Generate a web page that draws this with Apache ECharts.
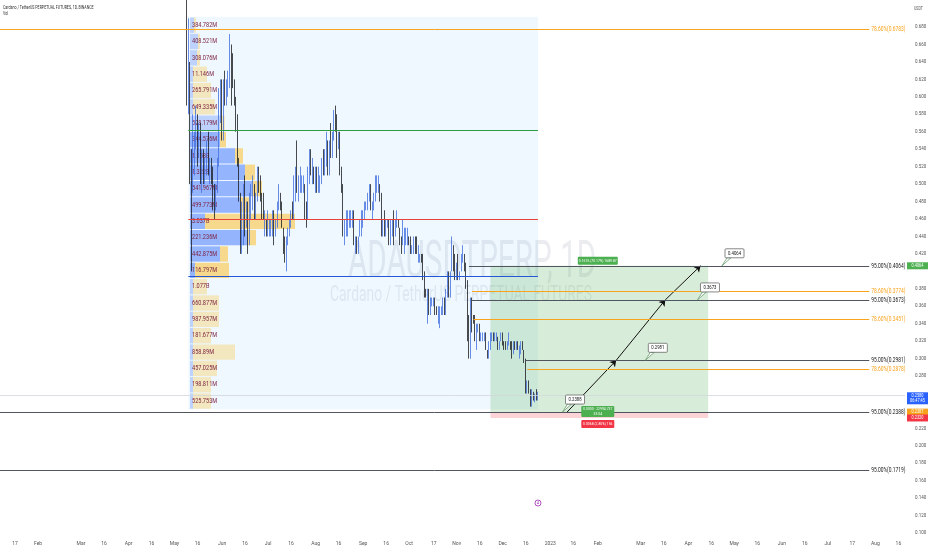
<!DOCTYPE html>
<html><head><meta charset="utf-8">
<script src="https://cdn.jsdelivr.net/npm/echarts@6/dist/echarts.min.js"></script>
<style>html,body{margin:0;padding:0;background:#fff}#c{width:932px;height:550px}</style>
</head><body><div id="c"></div>
<script>
// ---------------- DATA ----------------
const firstCandle = '2022-05-09';
// daily candles [open, high, low, close]
const may22 = [[.74,.75,.59,.60],[.60,.69,.58,.62],[.62,.64,.50,.52],[.52,.54,.40,.50],[.50,.58,.49,.54],[.54,.56,.51,.55],[.55,.59,.54,.58],[.58,.58,.52,.53],[.53,.57,.53,.56],[.56,.57,.50,.50],[.50,.54,.49,.53],[.53,.54,.50,.51],[.51,.53,.50,.52],[.52,.55,.51,.54],[.54,.56,.51,.52],[.52,.53,.50,.52],[.52,.53,.50,.51],[.51,.52,.47,.49],[.49,.50,.46,.48],[.48,.50,.47,.50],[.50,.53,.49,.53],[.53,.61,.52,.60],[.60,.62,.57,.60]];
const jun22 = [[.60,.62,.55,.56],[.56,.62,.55,.62],[.62,.63,.59,.60],[.60,.62,.59,.61],[.61,.63,.60,.62],[.62,.672,.61,.65],[.65,.66,.59,.62],[.62,.65,.61,.61],[.61,.62,.59,.60],[.60,.60,.56,.57],[.57,.58,.52,.52],[.52,.53,.48,.49],[.49,.49,.42,.44],[.44,.48,.42,.47],[.47,.50,.43,.50],[.50,.51,.44,.45],[.45,.48,.45,.47],[.47,.48,.42,.44],[.44,.49,.43,.48],[.48,.50,.46,.48],[.48,.51,.47,.49],[.49,.50,.46,.47],[.47,.49,.46,.49],[.49,.52,.48,.51],[.51,.52,.49,.50],[.50,.51,.48,.48],[.48,.49,.46,.47],[.47,.49,.46,.46],[.46,.47,.44,.46],[.46,.46,.44,.45]];
const jul22 = [[.45,.47,.44,.45],[.45,.46,.44,.45],[.45,.46,.44,.45],[.45,.47,.44,.47],[.47,.47,.43,.45],[.45,.46,.44,.45],[.45,.48,.45,.48],[.48,.50,.47,.48],[.48,.49,.47,.47],[.47,.48,.45,.45],[.45,.45,.42,.43],[.43,.44,.41,.42],[.42,.44,.40,.44],[.44,.45,.43,.45],[.45,.46,.44,.46],[.46,.47,.45,.47],[.47,.48,.46,.46],[.46,.51,.46,.50],[.50,.52,.48,.51],[.51,.55,.49,.50],[.50,.51,.48,.50],[.50,.52,.49,.50],[.50,.51,.49,.50],[.50,.51,.49,.50],[.50,.50,.46,.47],[.47,.48,.45,.46],[.46,.52,.46,.51],[.51,.54,.50,.53],[.53,.54,.51,.51],[.51,.53,.50,.51],[.51,.52,.50,.50]];
const aug22 = [[.50,.52,.49,.51],[.51,.52,.49,.50],[.50,.52,.49,.50],[.50,.51,.49,.50],[.50,.53,.50,.53],[.53,.54,.51,.52],[.52,.54,.51,.53],[.53,.56,.52,.54],[.54,.55,.51,.52],[.52,.55,.51,.55],[.55,.57,.53,.54],[.54,.56,.53,.56],[.56,.585,.55,.58],[.58,.59,.56,.57],[.57,.58,.53,.55],[.55,.56,.54,.55],[.55,.56,.51,.51],[.51,.52,.49,.50],[.50,.50,.44,.45],[.45,.46,.43,.45],[.45,.47,.44,.46],[.46,.47,.44,.46],[.46,.47,.45,.46],[.46,.47,.45,.46],[.46,.47,.45,.46],[.46,.47,.43,.43],[.43,.44,.42,.43],[.43,.44,.42,.42],[.42,.44,.42,.44],[.44,.46,.44,.45],[.45,.47,.44,.46]];
const sep22 = [[.46,.47,.45,.47],[.47,.48,.46,.47],[.47,.48,.47,.48],[.48,.49,.47,.49],[.49,.50,.48,.49],[.49,.50,.47,.47],[.47,.48,.46,.48],[.48,.49,.47,.48],[.48,.51,.48,.50],[.50,.51,.49,.50],[.50,.51,.49,.50],[.50,.50,.48,.48],[.48,.49,.44,.45],[.45,.46,.44,.46],[.46,.47,.44,.45],[.45,.46,.44,.45],[.45,.46,.45,.46],[.46,.46,.43,.44],[.44,.46,.43,.45],[.45,.46,.44,.45],[.45,.47,.43,.44],[.44,.46,.44,.46],[.46,.47,.45,.46],[.46,.46,.45,.45],[.45,.45,.43,.44],[.44,.44,.42,.43],[.43,.46,.43,.44],[.44,.45,.42,.44],[.44,.45,.43,.44],[.44,.45,.43,.44]];
const oct22 = [[.44,.44,.43,.43],[.43,.44,.42,.42],[.42,.43,.42,.43],[.43,.44,.42,.44],[.44,.44,.42,.43],[.43,.44,.42,.42],[.42,.43,.41,.42],[.42,.42,.41,.42],[.42,.42,.41,.41],[.41,.42,.39,.39],[.39,.40,.37,.38],[.38,.38,.37,.37],[.37,.38,.34,.37],[.37,.38,.35,.36],[.36,.37,.35,.36],[.36,.37,.36,.37],[.37,.37,.36,.37],[.37,.37,.35,.36],[.36,.36,.35,.35],[.35,.36,.34,.35],[.35,.36,.335,.355],[.355,.36,.35,.36],[.36,.37,.35,.37],[.37,.37,.35,.36],[.36,.38,.35,.38],[.38,.40,.37,.39],[.39,.40,.37,.38],[.38,.40,.37,.40],[.40,.44,.40,.42],[.42,.43,.40,.41],[.41,.42,.39,.40]];
const nov22 = [[.40,.41,.39,.41],[.41,.42,.39,.39],[.39,.40,.39,.40],[.40,.42,.40,.42],[.42,.43,.41,.42],[.42,.42,.40,.40],[.40,.41,.38,.39],[.39,.39,.32,.34],[.34,.35,.30,.31],[.31,.37,.30,.36],[.36,.37,.33,.35],[.35,.35,.34,.34],[.34,.35,.32,.32],[.32,.34,.31,.33],[.33,.34,.33,.34],[.34,.34,.32,.33],[.33,.33,.32,.33],[.33,.33,.32,.33],[.33,.33,.32,.33],[.33,.33,.31,.31],[.31,.31,.30,.305],[.305,.32,.30,.32],[.32,.33,.31,.32],[.32,.33,.32,.33],[.33,.33,.32,.32],[.32,.33,.32,.32],[.32,.33,.32,.325],[.325,.325,.31,.315],[.315,.32,.31,.32],[.32,.33,.32,.325]];
const dec22 = [[.325,.33,.315,.32],[.32,.32,.31,.315],[.315,.32,.31,.31],[.31,.32,.31,.32],[.32,.33,.315,.32],[.32,.32,.31,.315],[.315,.32,.30,.31],[.31,.32,.305,.32],[.32,.32,.31,.315],[.315,.32,.31,.315],[.315,.32,.31,.31],[.31,.315,.30,.31],[.31,.32,.305,.315],[.315,.32,.31,.31],[.31,.31,.295,.298],[.298,.30,.26,.265],[.265,.275,.26,.27],[.27,.275,.26,.262],[.262,.265,.245,.25],[.25,.265,.245,.26],[.26,.262,.252,.255],[.255,.26,.25,.258],[.258,.265,.252,.255],[.255,.262,.252,.258]];

// y-axis tick labels and x-axis tick dates
const yTicks = [0.10,0.12,0.14,0.16,0.18,0.20,0.22,0.24,0.26,0.28,0.30,0.32,0.34,0.36,0.38,0.40,0.42,0.44,0.46,0.48,0.50,0.52,0.54,0.56,0.58,0.60,0.62,0.64,0.66,0.68];
const xTicks = ['2022-01-17','2022-02-01','2022-03-01','2022-03-16','2022-04-01','2022-04-16','2022-05-01','2022-05-16','2022-06-01','2022-06-16','2022-07-01','2022-07-16','2022-08-01','2022-08-16','2022-09-01','2022-09-16','2022-10-01','2022-10-17','2022-11-01','2022-11-16','2022-12-01','2022-12-16','2023-01-01','2023-01-16','2023-02-01','2023-03-01','2023-03-16','2023-04-01','2023-04-16','2023-05-01','2023-05-16','2023-06-01','2023-06-16','2023-07-01','2023-07-17','2023-08-01','2023-08-16'];
const viewStart = '2022-01-07T04:50:00Z';
const viewEnd = '2023-08-20T07:40:00Z';
const priceMin = 0.0956, priceMax = 0.7110;

// visible range volume profile
const vpStart = '2022-05-10', vpEnd = '2022-12-24';
const vpHigh = 0.6915, vpLow = 0.2420;
const vpLabels = ['384.782M','408.521M','308.076M','11.146M','265.791M','649.335M','528.179M','344.576M','1.158B','1.322B','541.967M','499.773M','3.037B','221.236M','442.875M','116.797M','1.077B','660.877M','987.957M','181.677M','858.89M','457.025M','198.811M','525.753M'];
const vpUp   = [4,8,7,3,3,3,30,30,45,55,62,50,15,58,30,5,3,3,3,3,3,3,3,3];
const vpDown = [2,2,3,14,18,22,5,6,8,10,10,10,90,8,8,34,14,26,26,18,42,24,18,18];
const vaHigh = 0.5613, poc = 0.4597, vaLow = 0.3943;

// fib / extension levels
const levelPrices = [0.6783,0.4064,0.3774,0.3673,0.3451,0.2981,0.2878,0.2388,0.1719];
const levelNames  = ['78.60%','95.00%','78.60%','95.00%','78.60%','95.00%','78.60%','95.00%','95.00%'];
const levelStarts = [viewStart,'2022-11-09','2022-11-11','2022-11-11','2022-11-12','2022-12-16','2022-12-17',viewStart,viewStart];
const levelEnd = '2023-07-28';

// long position tool
const posStart = '2022-11-23', posEnd = '2023-04-14';
const posEntry = 0.2388, posTarget = 0.4064, posStop = 0.2320;
const posTopText = '0.1676 (70.17%) 1689.87';
const posMidText = '0.0000 · 22994.737\n33.04';
const posStopText = '0.0068 (2.85%) 156';
const posLabelDate = '2023-02-01';

// projected path
const pathDates  = ['2023-01-12','2023-02-13','2023-03-17','2023-04-09'];
const pathPrices = [0.2388,0.2981,0.3673,0.4064];

// callouts
const noteDates  = ['2023-01-09','2023-03-04','2023-04-07','2023-04-23'];
const notePrices = [0.2388,0.2981,0.3673,0.4064];

// price-scale tags
const tagPrices = [0.4064,0.2580,0.2387,0.2320];
const tagTexts  = ['0.4064','0.2580\n06:47:45','0.2387','0.2320'];
const lastPrice = 0.2580;
const eventDate = '2022-12-24';

// ---------------- BUILD ----------------
const DAY = 86400000;
// x values are expressed in days since 1970-01-01 (UTC)
const T = s => new Date(s.length === 10 ? s + 'T00:00:00Z' : s).getTime() / DAY;
const candles = [].concat(may22, jun22, jul22, aug22, sep22, oct22, nov22, dec22);
const t0 = T(firstCandle);
const candleData = candles.map((c, i) => [t0 + i, c[0], c[3], c[2], c[1]]);
const MON = ['Jan','Feb','Mar','Apr','May','Jun','Jul','Aug','Sep','Oct','Nov','Dec'];
const FONT = 'Roboto, "Liberation Sans", sans-serif';
const ORANGE = '#f9a31c';
const xmin = T(viewStart), xmax = T(viewEnd);

const vaLinesData = [[vaHigh, '#2e9b3f'], [poc, '#e8423b'], [vaLow, '#2357d6']].map(v => [
  {coord: [T(vpStart), v[0]], lineStyle: {color: v[1], width: 1, type: 'solid'}},
  {coord: [T(vpEnd), v[0]]}
]);
const pathData = [];
for (let i = 0; i < pathDates.length - 1; i++) {
  pathData.push([{coord: [T(pathDates[i]), pathPrices[i]]}, {coord: [T(pathDates[i + 1]), pathPrices[i + 1]]}]);
}

const chart = echarts.init(document.getElementById('c'), null, {renderer: 'canvas'});
const option = {
  animation: false,
  backgroundColor: '#ffffff',
  grid: [
    {left: 0, right: 27, top: 0, bottom: 13},
    {left: 190, right: 27, top: 0, bottom: 13}
  ],
  xAxis: [
    {type: 'value', gridIndex: 0, min: xmin, max: xmax,
     axisLine: {show: false}, axisTick: {show: false}, splitLine: {show: false},
     axisLabel: {customValues: xTicks.map(T), margin: 4, fontSize: 5, color: '#555', fontFamily: FONT,
       formatter: v => { const d = new Date(Math.round(v) * DAY); const day = d.getUTCDate(); if (day === 1) return d.getUTCMonth() === 0 ? String(d.getUTCFullYear()) : MON[d.getUTCMonth()]; return String(day); }}},
    {type: 'value', gridIndex: 1, min: 0, max: 715, show: false}
  ],
  yAxis: [
    {type: 'value', gridIndex: 0, position: 'right', min: priceMin, max: priceMax,
     axisLine: {show: false}, axisTick: {show: false}, splitLine: {show: false},
     axisLabel: {customValues: yTicks, margin: 10, fontSize: 4.5, color: '#555', fontFamily: FONT,
       formatter: v => tagPrices.some(p => Math.abs(p - v) < 0.009) ? '' : v.toFixed(3)}},
    {type: 'value', gridIndex: 1, min: priceMin, max: priceMax, show: false}
  ],
  graphic: [
    {type: 'text', x: 3, y: 5, scaleX: 0.72, z: 50, style: {text: 'Cardano / TetherUS PERPETUAL FUTURES, 1D, BINANCE', font: '5px ' + FONT, fill: '#333'}},
    {type: 'text', x: 3, y: 11, scaleX: 0.72, z: 50, style: {text: 'Vol', font: '5px ' + FONT, fill: '#333'}},
    {type: 'text', x: 914, y: 6, scaleX: 0.8, z: 50, style: {text: 'USDT', font: '4.5px ' + FONT, fill: '#555'}},
    {type: 'text', x: 348, y: 238, scaleX: 0.57, z: 0, style: {text: 'ADAUSDTPERP, 1D', font: '52px ' + FONT, fill: 'rgba(150,160,178,0.2)'}},
    {type: 'text', x: 330, y: 284, scaleX: 0.63, z: 0, style: {text: 'Cardano / TetherUS PERPETUAL FUTURES', font: '22px ' + FONT, fill: 'rgba(150,160,178,0.2)'}}
  ],
  series: [
    {
      type: 'line', xAxisIndex: 0, yAxisIndex: 0, data: [], z: 1, silent: true,
      markArea: {silent: true, data: [
        [{coord: [T(vpStart), vpHigh], itemStyle: {color: 'rgba(33,150,243,0.07)'}}, {coord: [T(vpEnd), vpLow]}],
        [{coord: [T(posStart), posTarget], itemStyle: {color: 'rgba(76,175,80,0.22)'}}, {coord: [T(posEnd), posEntry]}],
        [{coord: [T(posStart), posEntry], itemStyle: {color: 'rgba(242,54,69,0.22)'}}, {coord: [T(posEnd), posStop]}]
      ]}
    },
    {
      type: 'custom', xAxisIndex: 1, yAxisIndex: 1, z: 3, silent: true,
      data: vpUp.map((u, i) => [i, u, vpDown[i]]),
      renderItem: (params, api) => {
        const i = api.value(0), up = api.value(1), dn = api.value(2);
        const step = (vpHigh - vpLow) / vpUp.length;
        const top = vpHigh - i * step, bot = top - step, mid = top - step / 2;
        const a = api.coord([0, top]), b = api.coord([up, bot]), c = api.coord([up + dn, bot]);
        const inVA = mid <= vaHigh && mid >= vaLow;
        const h = b[1] - a[1] - 1;
        return {type: 'group', children: [
          {type: 'rect', shape: {x: a[0], y: a[1] + 0.5, width: b[0] - a[0], height: h}, style: {fill: inVA ? 'rgba(41,98,255,0.45)' : 'rgba(41,98,255,0.25)'}},
          {type: 'rect', shape: {x: b[0], y: a[1] + 0.5, width: c[0] - b[0], height: h}, style: {fill: inVA ? 'rgba(251,192,45,0.55)' : 'rgba(251,192,45,0.3)'}},
          {type: 'text', x: a[0] + 2, y: (a[1] + b[1]) / 2, scaleX: 0.82, style: {text: vpLabels[i], x: 0, y: 0, verticalAlign: 'middle', align: 'left', fill: '#7a1f3d', font: '6.8px ' + FONT}}
        ]};
      }
    },
    {
      type: 'candlestick', xAxisIndex: 0, yAxisIndex: 0, z: 4,
      data: candleData, encode: {x: 0, y: [1, 2, 3, 4]}, barWidth: 1,
      itemStyle: {color: '#4470e0', color0: '#1c1d22', borderColor: '#4470e0', borderColor0: '#1c1d22', borderWidth: 0.8}
    },
    {
      type: 'line', xAxisIndex: 0, yAxisIndex: 0, data: [], z: 5, silent: true,
      markLine: {silent: true, symbol: 'none', animation: false,
        label: {show: false},
        data: vaLinesData.concat([
          [{coord: [xmin, lastPrice], lineStyle: {color: '#d3d6dc', width: 0.8, type: 'solid'}}, {coord: [xmax, lastPrice]}]
        ])}
    },
    { // fib / extension levels with labels
      type: 'custom', xAxisIndex: 0, yAxisIndex: 0, z: 5, silent: true,
      data: levelPrices.map((p, i) => [T(levelStarts[i]), p, T(levelEnd), i]),
      renderItem: (params, api) => {
        const i = api.value(3);
        const a = api.coord([api.value(0), api.value(1)]), b = api.coord([api.value(2), api.value(1)]);
        const orange = levelNames[i].startsWith('78');
        const col = orange ? ORANGE : '#50555f';
        const y = Math.round(a[1]) + 0.5;
        return {type: 'group', children: [
          {type: 'line', shape: {x1: a[0], y1: y, x2: b[0], y2: y}, style: {stroke: col, lineWidth: 1}},
          {type: 'text', x: b[0] + 2, y: y, scaleX: 0.72, style: {text: levelNames[i] + '(' + api.value(1).toFixed(4) + ')', x: 0, y: 0, align: 'left', verticalAlign: 'middle', fill: orange ? ORANGE : '#222', font: '6.8px ' + FONT}}
        ]};
      }
    },
    {
      type: 'line', xAxisIndex: 0, yAxisIndex: 0, data: [], z: 6, silent: true,
      markLine: {silent: true, symbol: ['none', 'arrow'], symbolSize: 6, animation: false,
        label: {show: false}, lineStyle: {color: '#111', width: 1, type: 'solid'}, data: pathData}
    },
    {
      type: 'custom', xAxisIndex: 0, yAxisIndex: 0, z: 7, silent: true,
      data: noteDates.map((d, i) => [T(d), notePrices[i]]),
      renderItem: (params, api) => {
        const p = api.coord([api.value(0), api.value(1)]);
        const bx = p[0] + 3, by = p[1] - 17, w = 19, h = 9;
        return {type: 'group', children: [
          {type: 'polygon', shape: {points: [[p[0], p[1]], [bx + 2, by + h], [bx + 6, by + h]]}, style: {fill: '#fff', stroke: '#5a8f5e', lineWidth: 0.7}},
          {type: 'rect', shape: {x: bx, y: by, width: w, height: h, r: 1}, style: {fill: '#fff', stroke: '#555', lineWidth: 0.7}},
          {type: 'text', x: bx + w / 2, y: by + h / 2, scaleX: 0.85, style: {text: api.value(1).toFixed(4), x: 0, y: 0, align: 'center', verticalAlign: 'middle', fill: '#111', font: '5px ' + FONT}}
        ]};
      }
    },
    {
      type: 'custom', xAxisIndex: 0, yAxisIndex: 0, z: 8, silent: true,
      data: [[T(posLabelDate), posTarget, 0], [T(posLabelDate), posEntry, 1], [T(posLabelDate), posStop, 2]],
      renderItem: (params, api) => {
        const k = api.value(2);
        const p = api.coord([api.value(0), api.value(1)]);
        let txt, fill, y, h, w;
        if (k === 0) { txt = posTopText; fill = '#4caf50'; w = 40; h = 8; y = p[1] - 9; }
        else if (k === 1) { txt = posMidText; fill = '#4caf50'; w = 33; h = 11; y = p[1] - 6; }
        else { txt = posStopText; fill = '#f23645'; w = 33; h = 8; y = p[1] + 2; }
        return {type: 'group', children: [
          {type: 'rect', shape: {x: p[0] - w / 2, y: y, width: w, height: h, r: 1}, style: {fill: fill}},
          {type: 'text', x: p[0], y: y + h / 2, scaleX: 0.85, style: {text: txt, x: 0, y: 0, align: 'center', verticalAlign: 'middle', fill: '#fff', font: '4px ' + FONT, lineHeight: 5}}
        ]};
      }
    },
    {
      type: 'custom', xAxisIndex: 0, yAxisIndex: 0, z: 9, silent: true,
      data: tagPrices.map((p, i) => [xmax, p, i]),
      renderItem: (params, api) => {
        const i = api.value(2);
        const y = api.coord([api.value(0), api.value(1)])[1];
        const x = params.coordSys.x + params.coordSys.width + 2;
        const cols = ['#4caf50', '#2962ff', '#f7a21b', '#f23645'];
        const h = i === 1 ? 12 : 7;
        const yy = i === 1 ? y - 3 : y - h / 2;
        return {type: 'group', children: [
          {type: 'rect', shape: {x: x, y: yy, width: 21, height: h}, style: {fill: cols[i]}},
          {type: 'text', x: x + 10.5, y: yy + h / 2, scaleX: 0.85, style: {text: tagTexts[i], x: 0, y: 0, align: 'center', verticalAlign: 'middle', fill: '#fff', font: '4.5px ' + FONT, lineHeight: 5.5}}
        ]};
      }
    },
    {
      type: 'custom', xAxisIndex: 0, yAxisIndex: 0, z: 9, silent: true,
      data: [[T(eventDate), priceMin]],
      renderItem: (params, api) => {
        const p = api.coord([api.value(0), api.value(1)]);
        return {type: 'group', children: [
          {type: 'circle', shape: {cx: p[0], cy: p[1] - 34, r: 3}, style: {fill: '#fff', stroke: '#9c27b0', lineWidth: 0.8}},
          {type: 'text', style: {text: '4', x: p[0], y: p[1] - 34, align: 'center', verticalAlign: 'middle', fill: '#9c27b0', font: '4px ' + FONT}}
        ]};
      }
    }
  ]
};
chart.setOption(option);
</script>
</body></html>
